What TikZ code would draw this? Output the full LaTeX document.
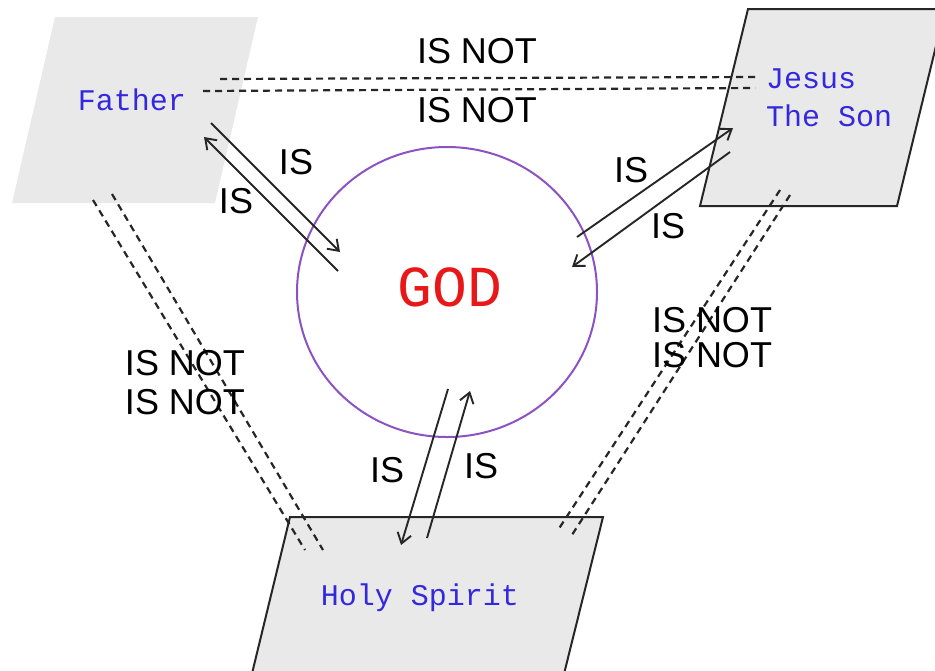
\documentclass[tikz,border=0pt]{standalone}
\usepackage{fontspec}
\setmainfont{Liberation Sans}
\setmonofont{Liberation Mono}
\usetikzlibrary{arrows.meta}
\definecolor{BoxGray}{RGB}{233,233,233}
\definecolor{NameBlue}{RGB}{52,40,222}
\definecolor{GodRed}{RGB}{232,24,24}
\definecolor{RingPurple}{RGB}{140,82,196}
\tikzset{
  isflow/.style={-{Straight Barb[length=5pt,width=7pt]},line width=0.95pt,draw=black!85},
  isnot/.style={line width=1.1pt,dash pattern=on 3.5pt off 2.5pt,draw=black!85},
  person/.style={fill=BoxGray,line width=1pt,draw=black!85},
  namelabel/.style={font=\ttfamily\fontsize{15}{19}\selectfont,text=NameBlue,align=left},
  islabel/.style={font=\fontsize{18}{18}\selectfont,inner sep=0pt}
}

\begin{document}
\begin{tikzpicture}[x=0.5pt,y=-0.5pt]
  \useasboundingbox (0,0) rectangle (935,670);
  % the three persons
  \fill[BoxGray] (55,17) -- (258,17) -- (215,203) -- (12,203) -- cycle;
  \filldraw[person] (748,9) -- (945,9) -- (897,206) -- (700,206) -- cycle;
  \filldraw[person] (290,517) -- (603,517) -- (560,690) -- (248,690) -- cycle;
  \draw[RingPurple,line width=1pt] (447,292) ellipse [x radius=150,y radius=145];

  \node[namelabel] (father) at (132,100) {Father};
  \node[namelabel,anchor=west] (jesus) at (759,98) {Jesus\\The Son};
  \node[namelabel] (spirit) at (420,598) {Holy Spirit};
  \node[font=\ttfamily\fontsize{29}{29}\selectfont,text=GodRed] (god) at (450,287) {GOD};

  % connector ends
  \coordinate (f-out) at (211,123);  \coordinate (g-in-f) at (340,252);
  \coordinate (g-out-f) at (338,271); \coordinate (f-in) at (204,137);
  \coordinate (g-out-j) at (577,237); \coordinate (j-in) at (733,128);
  \coordinate (j-out) at (730,152);  \coordinate (g-in-j) at (572,267);
  \coordinate (g-out-s) at (448,389); \coordinate (s-in) at (401,545);
  \coordinate (s-out) at (427,538);  \coordinate (g-in-s) at (470,391);
  \coordinate (fj-a) at (220,79);  \coordinate (jf-a) at (755,77);
  \coordinate (fj-b) at (203,91);  \coordinate (jf-b) at (755,88);
  \coordinate (fs-a) at (93,200);  \coordinate (sf-a) at (305,550);
  \coordinate (fs-b) at (112,194); \coordinate (sf-b) at (323,550);
  \coordinate (js-a) at (780,190); \coordinate (sj-a) at (558,530);
  \coordinate (js-b) at (790,195); \coordinate (sj-b) at (570,538);

  % IS
  \draw[isflow] (f-out) -- (g-in-f);
  \draw[isflow] (g-out-f) -- (f-in);
  \draw[isflow] (g-out-j) -- (j-in);
  \draw[isflow] (j-out) -- (g-in-j);
  \draw[isflow] (g-out-s) -- (s-in);
  \draw[isflow] (s-out) -- (g-in-s);

  % IS NOT
  \draw[isnot] (fj-a) -- (jf-a);
  \draw[isnot] (fj-b) -- (jf-b);
  \draw[isnot] (fs-a) -- (sf-a);
  \draw[isnot] (fs-b) -- (sf-b);
  \draw[isnot] (js-a) -- (sj-a);
  \draw[isnot] (js-b) -- (sj-b);

  \node[islabel] (is-fg) at (296,162) {IS};
  \node[islabel] (is-gf) at (236,201) {IS};
  \node[islabel] (is-gj) at (631,170) {IS};
  \node[islabel] (is-jg) at (668,226) {IS};
  \node[islabel] (is-gs) at (387,470) {IS};
  \node[islabel] (is-sg) at (481,466) {IS};
  \node[islabel] (not-fj1) at (477,51) {IS NOT};
  \node[islabel] (not-fj2) at (477,110) {IS NOT};
  \node[islabel] (not-fs1) at (185,363) {IS NOT};
  \node[islabel] (not-fs2) at (185,402) {IS NOT};
  \node[islabel] (not-js1) at (712,320) {IS NOT};
  \node[islabel] (not-js2) at (712,355) {IS NOT};
\end{tikzpicture}
\end{document}
